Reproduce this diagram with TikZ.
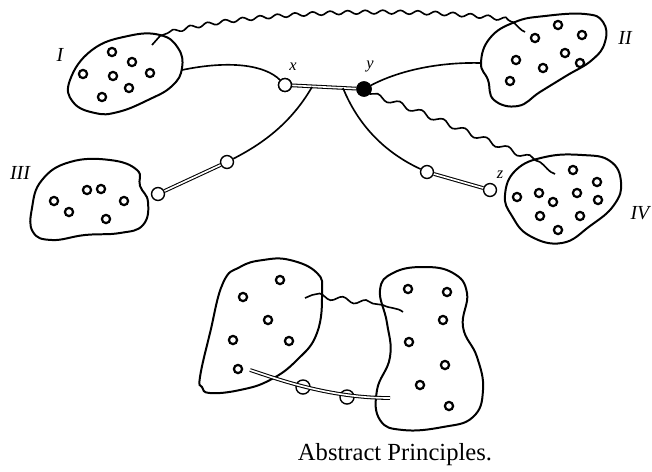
\documentclass[tikz,border=0pt]{standalone}
\usepackage{fontspec}
\setmainfont{Liberation Serif}
\usetikzlibrary{decorations.pathmorphing}
\tikzset{
    x=0.03cm,
    y=-0.03cm,
    blob/.style = {
        draw,
        line width=1.7pt,
        smooth cycle,
        tension=0.75
    },
    seed/.style = {
        draw,
        shape=circle,
        inner sep=0pt,
        minimum size=7pt,
        line width=1.9pt
    },
    knot/.style = {
        draw,
        shape=circle,
        fill=white,
        inner sep=0pt,
        minimum size=11pt,
        line width=1.2pt
    },
    link/.style = {
        draw,
        line width=1.4pt
    },
    twin/.style = {
        draw,
        line width=0.9pt,
        double,
        double distance=1.4pt
    },
    wave/.style = {
        draw,
        line width=1.4pt,
        decorate,
        decoration={snake, amplitude=1.6pt, segment length=15pt}
    },
    slowwave/.style = {
        draw,
        line width=1.4pt,
        decorate,
        decoration={snake, amplitude=2.2pt, segment length=20pt}
    },
    roman/.style = {
        font=\fontsize{17}{18}\selectfont\itshape
    },
    letter/.style = {
        font=\fontsize{14}{15}\selectfont\itshape
    },
}

\begin{document}
\begin{tikzpicture}
            \useasboundingbox (0,0) rectangle (652,471);

            % the four groups
            \path[blob] plot coordinates {(70,80) (92,50) (128,36) (160,35)
                (178,48) (182,68) (172,86) (148,100) (118,112) (95,113) (73,102)};
            \path[blob] plot coordinates {(481,63) (490,38) (515,22) (545,16)
                (585,14) (603,22) (605,42) (592,60) (566,76) (540,92)
                (518,106) (494,100) (488,80)};
            \path[blob] plot coordinates {(32,208) (42,180) (70,162) (110,160)
                (137,170) (140,186) (148,202) (143,225) (120,233) (85,235)
                (52,240) (33,232)};
            \path[blob] plot coordinates {(505,195) (516,170) (545,157)
                (582,155) (610,161) (621,182) (614,205) (590,226) (562,243)
                (530,236) (512,216)};

            \foreach \p in {(112,52),(132,62),(83,74),(113,76),(150,73),
                (129,88),(102,97)}
                \node[seed] at \p {};
            \foreach \p in {(558,25),(535,38),(582,35),(516,60),(565,53),
                (580,63),(543,68),(510,81)}
                \node[seed] at \p {};
            \foreach \p in {(54,201),(87,190),(101,189),(124,201),(69,212),
                (106,219)}
                \node[seed] at \p {};
            \foreach \p in {(573,170),(597,182),(517,197),(539,193),(553,202),
                (577,193),(598,200),(540,216),(580,216),(558,230)}
                \node[seed] at \p {};

            \node[roman] (one) at (60,55) {I};
            \node[roman] (two) at (625,38) {II};
            \node[roman] (three) at (20,173) {III};
            \node[roman] (four) at (640,213) {IV};

            % junctions
            \node[knot] (x) at (285,85) {};
            \node[knot, fill=black, minimum size=12pt] (y) at (364,89) {};
            \node[knot] (a) at (227,162) {};
            \node[knot] (b) at (158,194) {};
            \node[knot] (c) at (427,172) {};
            \node[knot] (z) at (490,190) {};
            \node[letter] (xl) at (293,67) {x};
            \node[letter] (yl) at (370,67) {y};
            \node[letter] (zl) at (500,175) {z};

            \coordinate (oneout) at (182,70);
            \coordinate (twoin) at (481,63);
            \coordinate (fork1) at (312,87);
            \coordinate (fork2) at (343,88);

            \path[link] (oneout) .. controls (230,60) and (265,65) .. (x);
            \path[link] (y) .. controls (400,70) and (440,62) .. (twoin);
            \path[twin] (x) -- (y);
            \path[link] (fork1) .. controls (290,125) and (260,145) .. (a);
            \path[twin] (a) -- (b);
            \path[link] (fork2) .. controls (360,130) and (390,155) .. (c);
            \path[twin] (c) -- (z);

            % long wavy ties
            \path[link] (152,45) -- (160,36) -- (168,33);
            \path[wave] (168,33) .. controls (230,15) and (400,5) .. (513,22);
            \path[link] (513,22) .. controls (518,26) and (520,30) .. (525,32);
            \path[slowwave] (y.-40) .. controls (420,110) and (480,140) .. (540,162);
            \path[link] (540,162) .. controls (546,166) and (548,172) .. (555,174);
            \node[knot] at (x) {};
            \node[knot, fill=black, minimum size=12pt] at (y) {};

            % the pair below
            \path[blob] plot coordinates {(200,377) (210,333) (223,283)
                (240,267) (263,260) (290,260) (317,273) (322,293) (317,333)
                (297,360) (270,380) (240,390) (210,393) (202,387)};
            \path[blob] plot coordinates {(380,290) (393,273) (423,267)
                (453,273) (467,293) (463,327) (477,357) (483,390) (473,417)
                (443,427) (403,430) (380,420) (377,390) (390,357) (387,323)};
            \foreach \p in {(243,297),(280,280),(268,320),(233,340),(289,341),
                (238,369)}
                \node[seed] at \p {};
            \foreach \p in {(408,289),(447,292),(443,320),(409,342),(445,365),
                (420,385),(449,406)}
                \node[seed] at \p {};

            \coordinate (p) at (250,370);
            \coordinate (q) at (390,398);
            \node[knot, minimum size=12pt, fill=none] (m) at (303,387) {};
            \node[knot, minimum size=12pt, fill=none] (n) at (347,397) {};
            \path[twin] (p) .. controls (280,380) and (330,398) .. (q);

            \coordinate (s) at (305,298);
            \coordinate (t) at (383,305);
            \path[link] (s) -- (312,295);
            \path[slowwave] (312,295) -- (t);
            \path[link] (t) .. controls (390,309) and (397,307) .. (403,312);

            \node[font=\fontsize{21}{23}\selectfont] (title) at (395,455)
                {Abstract Principles.};
\end{tikzpicture}
\end{document}
